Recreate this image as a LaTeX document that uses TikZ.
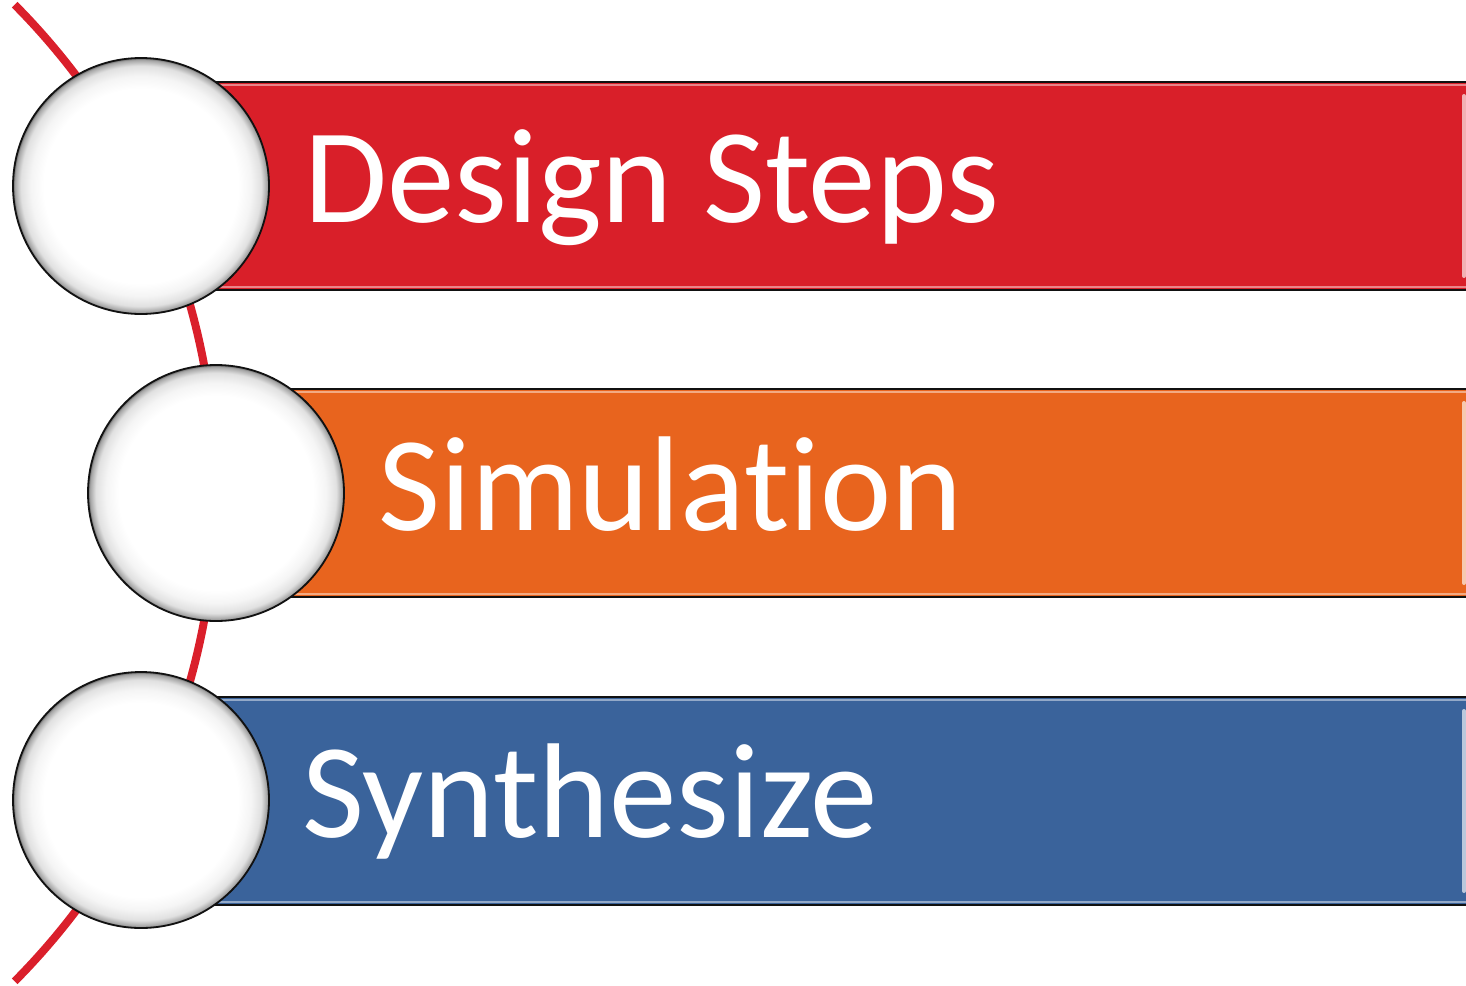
\documentclass[tikz,border=0pt]{standalone}
\usepackage{fontspec}
\setmainfont{Carlito}[Ligatures=NoCommon]
\usetikzlibrary{calc,positioning}
\usepackage{xcolor}
\definecolor{stepRed}{HTML}{D91F29}
\definecolor{stepOrange}{HTML}{E8641E}
\definecolor{stepBlue}{HTML}{3A639B}
\definecolor{arcRed}{HTML}{DA1F2B}
\definecolor{rimInk}{HTML}{111111}
% glassy bead: white centre, greyish rim
\pgfdeclareradialshading{beadglass}{\pgfpoint{0bp}{0bp}}{%
  color(0bp)=(white); color(19bp)=(white); color(21.5bp)=(black!4);
  color(23.5bp)=(black!12); color(24.6bp)=(black!35); color(25bp)=(black!60);
  color(50bp)=(black!60)}
\tikzset{
  spine/.style     = {line width=8pt, color=arcRed},
  barfill/.style   = {fill=#1},
  barglint/.style  = {line width=2.5pt, color=#1!55!white},
  baredge/.style   = {line width=2pt, color=rimInk},
  barend/.style    = {line width=4pt, color=#1!35!white, line cap=round},
  bead/.style      = {circle, minimum size=256pt, inner sep=0, draw=rimInk,
                      line width=1.8pt, shading=beadglass},
  steplbl/.style   = {font=\fontsize{135}{150}\selectfont, text=white,
                      inner sep=0, anchor=base west},
}
\begin{document}
\begin{tikzpicture}[x=1pt, y=-1pt]
\useasboundingbox (0,0) rectangle (1466,985);
\fill[white] (0,0) rectangle (1466,985);

% dimensions
\def\barh{208}   % bar height
\def\barx{141}   % bars start behind the beads
\def\yOne{82}
\def\yTwo{389}
\def\yThree{697}

% --- red spine behind everything ---
\coordinate (spineC) at (-477,493);
\draw[spine] (spineC) ++(-44.8:693) arc[start angle=-44.8, end angle=44.8, radius=693];

% --- bar 1: design steps ---
\fill[barfill=stepRed] (\barx,\yOne) rectangle (1466,\yOne+\barh);
\draw[barglint=stepRed] (\barx,\yOne+3) -- (1466,\yOne+3);
\draw[barglint=stepRed] (\barx,\yOne+\barh-3) -- (1466,\yOne+\barh-3);
\draw[barend=stepRed] (1464,\yOne+14) -- (1464,\yOne+\barh-14);
\draw[baredge] (\barx,\yOne) -- (1466,\yOne);
\draw[baredge] (\barx,\yOne+\barh) -- (1466,\yOne+\barh);

% --- bar 2: simulation ---
\fill[barfill=stepOrange] (\barx,\yTwo) rectangle (1466,\yTwo+\barh);
\draw[barglint=stepOrange] (\barx,\yTwo+3) -- (1466,\yTwo+3);
\draw[barglint=stepOrange] (\barx,\yTwo+\barh-3) -- (1466,\yTwo+\barh-3);
\draw[barend=stepOrange] (1464,\yTwo+14) -- (1464,\yTwo+\barh-14);
\draw[baredge] (\barx,\yTwo) -- (1466,\yTwo);
\draw[baredge] (\barx,\yTwo+\barh) -- (1466,\yTwo+\barh);

% --- bar 3: synthesize ---
\fill[barfill=stepBlue] (\barx,\yThree) rectangle (1466,\yThree+\barh);
\draw[barglint=stepBlue] (\barx,\yThree+3) -- (1466,\yThree+3);
\draw[barglint=stepBlue] (\barx,\yThree+\barh-3) -- (1466,\yThree+\barh-3);
\draw[barend=stepBlue] (1464,\yThree+14) -- (1464,\yThree+\barh-14);
\draw[baredge] (\barx,\yThree) -- (1466,\yThree);
\draw[baredge] (\barx,\yThree+\barh) -- (1466,\yThree+\barh);

% --- beads on the spine ---
\node[bead] (beadOne)   at (141,186) {};
\node[bead] (beadTwo)   at (216,493) {};
\node[bead] (beadThree) at (141,800) {};

% --- labels ---
\node[steplbl] (lblDesign) at (304,222) {Design Steps};
\node[steplbl] (lblSim)    at (378,530) {Simulation};
\node[steplbl] (lblSynth)  at (302,837) {Synthesize};

\end{tikzpicture}
\end{document}
